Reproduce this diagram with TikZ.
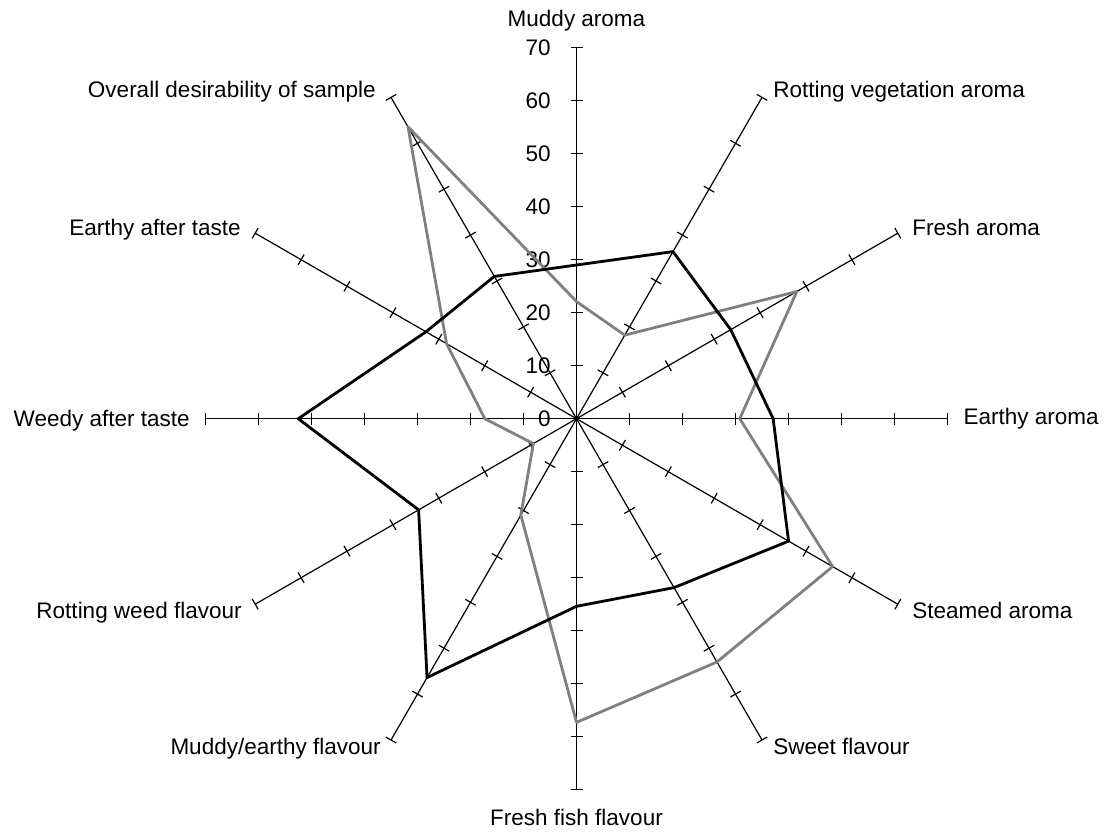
\documentclass[tikz,border=0pt]{standalone}
\usepackage{fontspec}
\setmainfont{Liberation Sans}
\definecolor{grayline}{RGB}{128,128,128}
\begin{document}
\begin{tikzpicture}[x=0.5pt,y=0.5pt,
  axisline/.style={line width=0.6pt,black},
  tickmark/.style={line width=0.6pt,black},
  seriesA/.style={line width=1.4pt,black,line join=round},
  seriesB/.style={line width=1.4pt,grayline,line join=round},
  lbl/.style={inner sep=0pt,font=\fontsize{11.25}{13}\selectfont},
  numlbl/.style={inner sep=0pt,anchor=east,font=\fontsize{11.25}{13}\selectfont},
]
\useasboundingbox (0,0) rectangle (1106,832);
\begin{scope}[shift={(576.5,413.3)}]
  \coordinate (O) at (0,0);
  % axes with tick marks
  \foreach \i/\a in {0/90,1/60,2/30,3/0,4/-30,5/-60,6/-90,7/-120,8/-150,9/180,10/150,11/120}{
    \coordinate (ax\i) at (\a:371);
    \draw[axisline] (O) -- (ax\i);
    \foreach \k in {1,...,7}{
      \draw[tickmark,rotate=\a] (\k*53,-6) -- (\k*53,6);
    }
  }
  % value labels on the first axis
  \foreach \k in {0,...,7}{
    \node[numlbl] (n\k) at (-25.5,\k*53) {\the\numexpr\k*10\relax};
  }
  % series (grey)
  \foreach \i/\a/\v in {0/90/22.1,1/60/18.2,2/30/48,3/0/30.8,4/-30/55.8,5/-60/53,6/-90/57.3,7/-120/21,8/-150/9.4,9/180/17.3,10/150/28.3,11/120/63.6}{
    \coordinate (g\i) at (\a:{\v*5.3});
  }
  \draw[seriesB] (g0)--(g1)--(g2)--(g3)--(g4)--(g5)--(g6)--(g7)--(g8)--(g9)--(g10)--(g11)--cycle;
  % series (black)
  \foreach \i/\a/\v in {0/90/29,1/60/36.4,2/30/33.6,3/0/37.1,4/-30/46.2,5/-60/36.8,6/-90/35.4,7/-120/56.4,8/-150/34.4,9/180/52.5,10/150/32.8,11/120/31}{
    \coordinate (b\i) at (\a:{\v*5.3});
  }
  \draw[seriesA] (b0)--(b1)--(b2)--(b3)--(b4)--(b5)--(b6)--(b7)--(b8)--(b9)--(b10)--(b11)--cycle;
\end{scope}
% axis labels
\node[lbl,anchor=base] (l0) at (576.5,805) {Muddy aroma};
\node[lbl,anchor=base west] (l1) at (773,734.5) {Rotting vegetation aroma};
\node[lbl,anchor=base west] (l2) at (912,597) {Fresh aroma};
\node[lbl,anchor=base west] (l3) at (963.3,407.5) {Earthy aroma};
\node[lbl,anchor=base west] (l4) at (912,214) {Steamed aroma};
\node[lbl,anchor=base west] (l5) at (773,78) {Sweet flavour};
\node[lbl,anchor=base] (l6) at (576.5,7) {Fresh fish flavour};
\node[lbl,anchor=base east] (l7) at (381,78) {Muddy/earthy flavour};
\node[lbl,anchor=base east] (l8) at (242,214) {Rotting weed flavour};
\node[lbl,anchor=base east] (l9) at (190,406) {Weedy after taste};
\node[lbl,anchor=base east] (l10) at (241,597) {Earthy after taste};
\node[lbl,anchor=base east] (l11) at (376,734.5) {Overall desirability of sample};
\end{tikzpicture}
\end{document}
